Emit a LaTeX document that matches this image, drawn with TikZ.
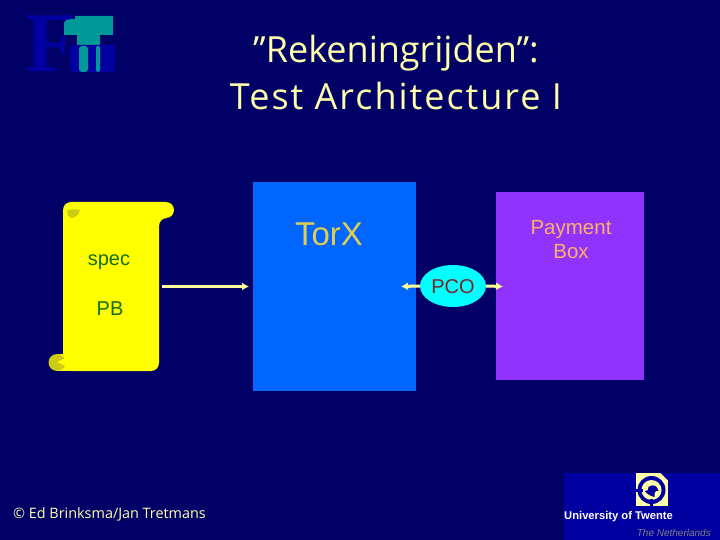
\documentclass[tikz,border=0pt]{standalone}
\usepackage{fontspec}
\setmainfont{Liberation Sans}
\newfontfamily\casual{Open Sans}
\newfontfamily\casualwide[LetterSpace=5.5]{Open Sans}
\newfontfamily\logoserif{Liberation Serif}
\usetikzlibrary{arrows.meta,shapes.geometric}
\definecolor{bgnavy}{RGB}{0,0,102}
\definecolor{torblue}{RGB}{0,102,255}
\definecolor{boxpurple}{RGB}{145,51,255}
\definecolor{scrolly}{RGB}{255,255,0}
\definecolor{scrollshade}{RGB}{204,204,20}
\definecolor{specgreen}{RGB}{20,110,10}
\definecolor{pcocyan}{RGB}{0,255,255}
\definecolor{pcotext}{RGB}{120,40,40}
\definecolor{arrowcream}{RGB}{255,255,153}
\definecolor{titlecream}{RGB}{255,255,170}
\definecolor{torgold}{RGB}{225,205,80}
\definecolor{payorange}{RGB}{255,175,95}
\definecolor{logoblue}{RGB}{0,0,160}
\definecolor{logoteal}{RGB}{0,153,153}
\definecolor{utblue}{RGB}{0,0,160}
\definecolor{utyellow}{RGB}{255,255,170}
\tikzset{
  x=1pt,y=-1pt,
  label text/.style={inner sep=0pt,anchor=base,font=\fontsize{20}{24}\selectfont},
  arrowline/.style={draw=arrowcream,line width=3pt,-{Latex[length=7pt,width=8pt]}},
  titletext/.style={inner sep=0pt,text=titlecream},
}
\begin{document}
\begin{tikzpicture}
\useasboundingbox (0,0) rectangle (720,540);
\fill[bgnavy] (0,0) rectangle (720,540);
% logo
\node[inner sep=0pt,text=logoblue,anchor=base west,font=\logoserif\bfseries\fontsize{85}{85}\selectfont] (logoF) at (25,72) {F};
\fill[logoteal] (75,16) -- (113,16) -- (113,35) -- (100,35) -- (100,45) -- (77,45) -- (77,35) -- (64,35) -- (64,24) .. controls (64,20) and (67,19) .. (75,19) -- cycle;
\fill[logoblue,rounded corners=3pt] (70,45) rectangle (115,72);
\fill[logoteal,rounded corners=3pt] (79,46) rectangle (88,72);
\fill[logoteal,rounded corners=1.5pt] (96,46) rectangle (100,72);
% title
\node[titletext,font=\casual\fontsize{36}{42}\selectfont] (title1) at (396,53) {”Rekeningrijden”:};
\node[titletext,font=\casualwide\fontsize{36}{42}\selectfont] (title2) at (396,96) {Test Architecture I};
% scroll
\fill[scrolly,rounded corners=8pt] (63,371) -- (63,202) -- (174,202) -- (174,218) -- (159,218) -- (159,371) -- cycle;
\fill[scrolly] (58,354) rectangle (70,371);
\fill[scrollshade] (57,362.5) circle[radius=8.5];
\fill[scrolly] (57,362) -- (66,358) -- (66,366) -- cycle;
\fill[scrollshade] (67,211) .. controls (68,209) and (75,209) .. (80,210) .. controls (79,215) and (75,218) .. (71,218) .. controls (68,217) and (67,214) .. (67,211) -- cycle;
\node[label text,text=specgreen] (spec) at (109,265) {spec};
\node[label text,text=specgreen] (pb) at (110,315) {PB};
% boxes
\node[draw=none,fill=torblue,minimum width=163pt,minimum height=209pt,inner sep=0pt,anchor=north west] (torx) at (253,182) {};
\node[draw=none,fill=boxpurple,minimum width=148pt,minimum height=188pt,inner sep=0pt,anchor=north west] (pbox) at (496,192) {};
\node[inner sep=0pt,anchor=base,text=torgold,font=\fontsize{33}{38}\selectfont] (torxl) at (329,245) {TorX};
\node[inner sep=0pt,align=center,text=payorange,font=\fontsize{20.5}{24}\selectfont] (pboxl) at (571,240) {Payment\\Box};
% PCO
\coordinate (specout) at (162,286.5);
\coordinate (torin) at (249,286.5);
\coordinate (pcol) at (401,286.5);
\coordinate (pcor) at (503,286.5);
\draw[arrowline] (specout) -- (torin);
\node[ellipse,fill=pcocyan,minimum width=66pt,minimum height=42pt,inner sep=0pt] (pco) at (453,286) {};
\draw[arrowline] (pco.west) -- (pcol);
\draw[arrowline] (pco.east) -- (pcor);
\node[inner sep=0pt,text=pcotext,font=\fontsize{20}{24}\selectfont] (pcot) at (453,287) {PCO};
% copyright
\node[inner sep=0pt,anchor=west,text=titlecream,font=\casual\fontsize{14.4}{17}\selectfont] (copy) at (13,514) {© Ed Brinksma/Jan Tretmans};
% UT logo
\fill[utblue] (564,473) rectangle (720,540);
\begin{scope}[shift={(651.5,490)}]
\fill[utyellow] (-16,-17) rectangle (16,16);
\fill[utblue] (0,0) circle[radius=14];
\fill[utyellow] (0,0) circle[radius=10];
\fill[utblue] (-3,-3) .. controls (3,-7) and (6,-3) .. (7,1) .. controls (3,0) and (3,3) .. (3,7) .. controls (-2,6) and (-5,3) .. (-7,1) .. controls (-3,1) and (-3,-1) .. (-3,-3) -- cycle;
\fill[utblue] (-17,-1.5) rectangle (-9,1.5);
\fill[utblue] (-1.5,9) rectangle (1.5,17);
\fill[utblue] (9,-17) -- (17,-17) -- (17,-9) -- cycle;
\end{scope}
\node[inner sep=0pt,anchor=west,text=white,font=\fontsize{11.2}{13}\selectfont\bfseries] (ut) at (564,517) {University of Twente};
\node[inner sep=0pt,anchor=east,text=gray,font=\fontsize{10}{12}\selectfont\itshape] (nl) at (711,533) {The Netherlands};
\end{tikzpicture}
\end{document}
